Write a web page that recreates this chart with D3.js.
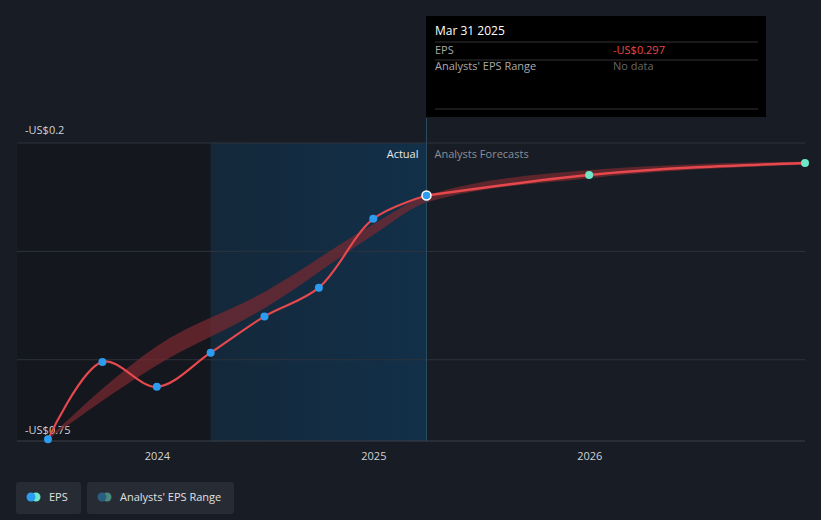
<!DOCTYPE html><html><head><meta charset="utf-8">
<script src="https://cdn.jsdelivr.net/npm/d3@7"></script>
<style>body{margin:0;background:#181c24;font-family:"Open Sans",sans-serif}</style></head><body>
<svg id="c" width="821" height="520"></svg>
<script>
const epsDates=["2023-06-30","2023-09-30","2023-12-31","2024-03-31","2024-06-30","2024-09-30","2024-12-31","2025-03-31"];
const epsValues=[-0.747,-0.604,-0.65,-0.587,-0.52,-0.467,-0.34,-0.297];
const fcDates=["2025-03-31","2025-12-31","2026-12-31"];
const fcValues=[-0.297,-0.259,-0.237];
const rangeDates=["2023-06-30","2023-12-31","2024-06-30","2024-12-31","2025-03-31","2025-12-31","2026-12-31"];
const rangeLow=[-0.747,-0.61,-0.505,-0.37,-0.31,-0.265,-0.24];
const rangeHigh=[-0.745,-0.575,-0.475,-0.35,-0.297,-0.25,-0.234];
const yTicks=[-0.2,-0.4,-0.6,-0.75];
const xTicks=["2024","2025","2026"];
const p=d3.timeParse("%Y-%m-%d");
const svg=d3.select("#c");
const x=d3.scaleTime().domain([p("2023-06-30"),p("2026-12-31")]).range([48,805]);
const y=d3.scaleLinear().domain([-0.75,-0.2]).range([441,143]);
const split=x(p("2025-03-31"));
svg.append("rect").attr("x",17).attr("y",143).attr("width",x(p("2024-03-31"))-17).attr("height",298).attr("fill","#14171d");
const g=svg.append("defs").append("linearGradient").attr("id","bg").attr("x1",0).attr("x2",1);
g.append("stop").attr("offset",0).attr("stop-color","#14283a");g.append("stop").attr("offset",1).attr("stop-color","#123049");
svg.append("rect").attr("x",x(p("2024-03-31"))).attr("y",143).attr("width",split-x(p("2024-03-31"))).attr("height",298).attr("fill","url(#bg)");
[-0.2,-0.4,-0.6].forEach(v=>svg.append("line").attr("x1",17).attr("x2",805).attr("y1",y(v)).attr("y2",y(v)).attr("stroke","#2e333c"));
svg.append("line").attr("x1",17).attr("x2",805).attr("y1",441).attr("y2",441).attr("stroke","#3a3f48");
svg.append("text").attr("x",25).attr("y",134).text("-US$0.2").attr("fill","#d0d3d8").attr("font-size",11);
svg.append("text").attr("x",25).attr("y",434).text("-US$0.75").attr("fill","#d0d3d8").attr("font-size",11);
xTicks.forEach(t=>svg.append("text").attr("x",x(p(t+"-01-01"))).attr("y",460).attr("text-anchor","middle").text(t).attr("fill","#d0d3d8").attr("font-size",11));
const rd=rangeDates.map((d,i)=>({d:p(d),lo:rangeLow[i],hi:rangeHigh[i]}));
svg.append("path").datum(rd).attr("fill","#7a2a30").attr("opacity",0.7)
 .attr("d",d3.area().curve(d3.curveMonotoneX).x(d=>x(d.d)).y0(d=>y(d.lo)).y1(d=>y(d.hi)));
svg.append("line").attr("x1",split).attr("x2",split).attr("y1",118).attr("y2",441).attr("stroke","#2a4a60");
svg.append("text").attr("x",split-8).attr("y",158).attr("text-anchor","end").text("Actual").attr("fill","#e8e8e8").attr("font-size",11);
svg.append("text").attr("x",split+8).attr("y",158).text("Analysts Forecasts").attr("fill","#8a8f98").attr("font-size",11);
const ep=epsDates.map((d,i)=>({d:p(d),v:epsValues[i]})), fp=fcDates.map((d,i)=>({d:p(d),v:fcValues[i]}));
const ln=d3.line().curve(d3.curveCatmullRom).x(d=>x(d.d)).y(d=>y(d.v));
svg.append("path").attr("d",ln(ep)).attr("fill","none").attr("stroke","#e5484d").attr("stroke-width",2.2);
svg.append("path").attr("d",d3.line().curve(d3.curveMonotoneX).x(d=>x(d.d)).y(d=>y(d.v))(fp)).attr("fill","none").attr("stroke","#e5484d").attr("stroke-width",2.5);
ep.slice(0,-1).forEach(d=>svg.append("circle").attr("cx",x(d.d)).attr("cy",y(d.v)).attr("r",4).attr("fill","#2b9cf0"));
svg.append("circle").attr("cx",split).attr("cy",y(-0.297)).attr("r",4.5).attr("fill","#2b9cf0").attr("stroke","#fff").attr("stroke-width",1.5);
fp.slice(1).forEach(d=>svg.append("circle").attr("cx",x(d.d)).attr("cy",y(d.v)).attr("r",4).attr("fill","#6ee7c8"));
svg.append("rect").attr("x",426).attr("y",16).attr("width",340).attr("height",101).attr("fill","#000");
svg.append("text").attr("x",435).attr("y",35).text("Mar 31 2025").attr("fill","#fff").attr("font-size",12);
[42,60,109].forEach(yy=>svg.append("line").attr("x1",435).attr("x2",758).attr("y1",yy).attr("y2",yy).attr("stroke","#333"));
svg.append("text").attr("x",435).attr("y",54).text("EPS").attr("fill","#aaa").attr("font-size",11);
svg.append("text").attr("x",613).attr("y",54).text("-US$0.297").attr("fill","#e5484d").attr("font-size",11);
svg.append("text").attr("x",435).attr("y",70).text("Analysts' EPS Range").attr("fill","#aaa").attr("font-size",11);
svg.append("text").attr("x",613).attr("y",70).text("No data").attr("fill","#666").attr("font-size",11);
function leg(x0,w,c1,c2,t){svg.append("rect").attr("x",x0).attr("y",482).attr("width",w).attr("height",32).attr("rx",3).attr("fill","#262b34");
 svg.append("circle").attr("cx",x0+20).attr("cy",497).attr("r",4.5).attr("fill",c2);
 svg.append("circle").attr("cx",x0+15).attr("cy",497).attr("r",4.5).attr("fill",c1);
 svg.append("text").attr("x",x0+33).attr("y",501).text(t).attr("fill","#e0e0e0").attr("font-size",11);}
leg(16,65,"#2b9cf0","#6ee7c8","EPS");
leg(87,147,"#2b5f7f","#4a8a80","Analysts' EPS Range");
</script></body></html>
